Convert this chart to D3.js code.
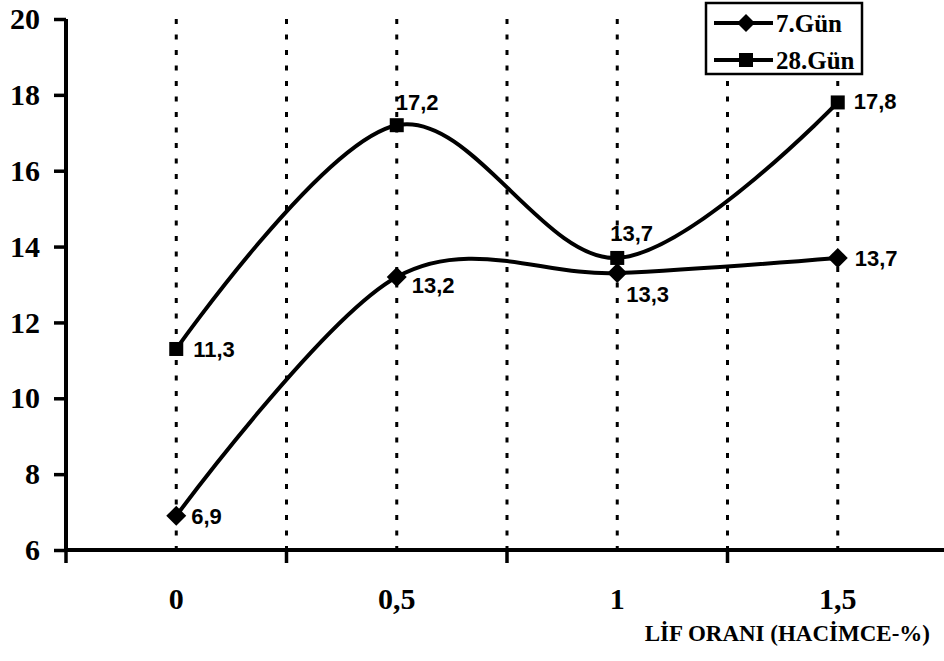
<!DOCTYPE html>
<html>
<head>
<meta charset="utf-8">
<script src="https://cdn.jsdelivr.net/npm/d3@7"></script>
<style>
  html, body { margin: 0; padding: 0; background: #fff; }
  svg { display: block; }
  .serifb { font-family: 'Liberation Serif', 'Times New Roman', serif; font-weight: bold; }
  .sansb { font-family: 'Liberation Sans', Arial, sans-serif; font-weight: bold; }
</style>
</head>
<body>
<svg id="chart" width="944" height="661"></svg>
<script>
// Fibre ratio categories (x axis)
const categories = ["0", "0,5", "1", "1,5"];
// Strength values per curing age
const series7 = [6.9, 13.2, 13.3, 13.7];
const series28 = [11.3, 17.2, 13.7, 17.8];
const seriesNames = ["7.Gün", "28.Gün"];
// Y axis tick values
const yTicks = [6, 8, 10, 12, 14, 16, 18, 20];
const xTitle = "LİF ORANI (HACİMCE-%)";

const svg = d3.select("#chart");

const plotLeft = 66, plotRight = 948, plotTop = 19, plotBottom = 550;

const x = d3.scalePoint().domain(categories).range([plotLeft, plotRight]).padding(0.5);
const step = x.step();
const y = d3.scaleLinear().domain([6, 20]).range([plotBottom, plotTop]);

// Dotted vertical guides: at category centres and at band boundaries
const guideXs = [];
categories.forEach((c, i) => {
  guideXs.push(x(c));
  if (i > 0) guideXs.push(plotLeft + i * step);
});
svg.append("g").selectAll("line").data(guideXs).join("line")
  .attr("x1", d => d).attr("x2", d => d)
  .attr("y1", plotTop).attr("y2", plotBottom)
  .attr("stroke", "#000").attr("stroke-width", 3)
  .attr("stroke-dasharray", "5 10.5");

// Y axis (line and ticks from d3.axisLeft, labels drawn separately)
const yAxis = d3.axisLeft(y).tickValues(yTicks).tickSize(12).tickFormat("");
const gy = svg.append("g").attr("transform", `translate(${plotLeft},0)`).call(yAxis);
gy.select(".domain").attr("stroke-width", 4).attr("d", `M0,${plotTop}V${plotBottom + 2}`);
gy.selectAll(".tick line").attr("stroke-width", 3.5);
gy.selectAll(".tick text").remove();
svg.append("g").selectAll("text").data(yTicks).join("text")
  .attr("class", "serifb")
  .attr("x", 40).attr("y", d => y(d)).attr("dy", "0.34em")
  .attr("text-anchor", "end").attr("font-size", 30)
  .text(d => d);

// X axis: ticks at band boundaries, labels at category centres
const boundaries = d3.range(0, categories.length).map(i => plotLeft + i * step);
svg.append("line").attr("x1", plotLeft - 2).attr("x2", 944).attr("y1", plotBottom).attr("y2", plotBottom)
  .attr("stroke", "#000").attr("stroke-width", 4);
svg.append("g").selectAll("line").data(boundaries).join("line")
  .attr("x1", d => d).attr("x2", d => d)
  .attr("y1", plotBottom).attr("y2", plotBottom + 13)
  .attr("stroke", "#000").attr("stroke-width", 3.5);
svg.append("g").selectAll("text").data(categories).join("text")
  .attr("class", "serifb")
  .attr("x", d => x(d)).attr("y", 609)
  .attr("text-anchor", "middle").attr("font-size", 30)
  .text(d => d);

svg.append("text").attr("class", "serifb")
  .attr("x", 930).attr("y", 641).attr("text-anchor", "end").attr("font-size", 23)
  .text(xTitle);

// Smoothed series lines
const line = d3.line()
  .x((d, i) => x(categories[i]))
  .y(d => y(d))
  .curve(d3.curveCatmullRom.alpha(0));

svg.append("path").datum(series28).attr("d", line)
  .attr("fill", "none").attr("stroke", "#000").attr("stroke-width", 4);
svg.append("path").datum(series7).attr("d", line)
  .attr("fill", "none").attr("stroke", "#000").attr("stroke-width", 4);

// Markers
const diamond = (cx, cy, r) => `M${cx},${cy - r}L${cx + r},${cy}L${cx},${cy + r}L${cx - r},${cy}Z`;
svg.append("g").selectAll("path").data(series7).join("path")
  .attr("d", (d, i) => diamond(x(categories[i]), y(d), 10))
  .attr("fill", "#000");
svg.append("g").selectAll("rect").data(series28).join("rect")
  .attr("x", (d, i) => x(categories[i]) - 7).attr("y", d => y(d) - 7)
  .attr("width", 14).attr("height", 14).attr("fill", "#000");

// Value labels (offsets per point)
const fmt = v => d3.format(".1f")(v).replace(".", ",");
const off7 = [[15, 0], [15, 8], [9, 21], [17, 0]];
const off28 = [[17, 0], [-1, -23], [-7, -25], [16, -1]];
function labels(data, offs) {
  svg.append("g").selectAll("text").data(data).join("text")
    .attr("class", "sansb")
    .attr("x", (d, i) => x(categories[i]) + offs[i][0])
    .attr("y", (d, i) => y(d) + offs[i][1])
    .attr("dy", "0.36em").attr("font-size", 22)
    .text(d => fmt(d));
}
labels(series7, off7);
labels(series28, off28);

// Legend
const lg = svg.append("g");
lg.append("rect").attr("x", 706).attr("y", 3).attr("width", 156).attr("height", 71)
  .attr("fill", "#fff").attr("stroke", "#000").attr("stroke-width", 2.5);
const rows = [23, 60];
rows.forEach((ry, i) => {
  lg.append("line").attr("x1", 714).attr("x2", 773).attr("y1", ry).attr("y2", ry)
    .attr("stroke", "#000").attr("stroke-width", 4);
  if (i === 0) lg.append("path").attr("d", diamond(746, ry, 9)).attr("fill", "#000");
  else lg.append("rect").attr("x", 739).attr("y", ry - 7).attr("width", 14).attr("height", 14).attr("fill", "#000");
  lg.append("text").attr("class", "serifb")
    .attr("x", 776).attr("y", ry).attr("dy", "0.35em").attr("font-size", 25)
    .text(seriesNames[i]);
});
</script>
</body>
</html>
